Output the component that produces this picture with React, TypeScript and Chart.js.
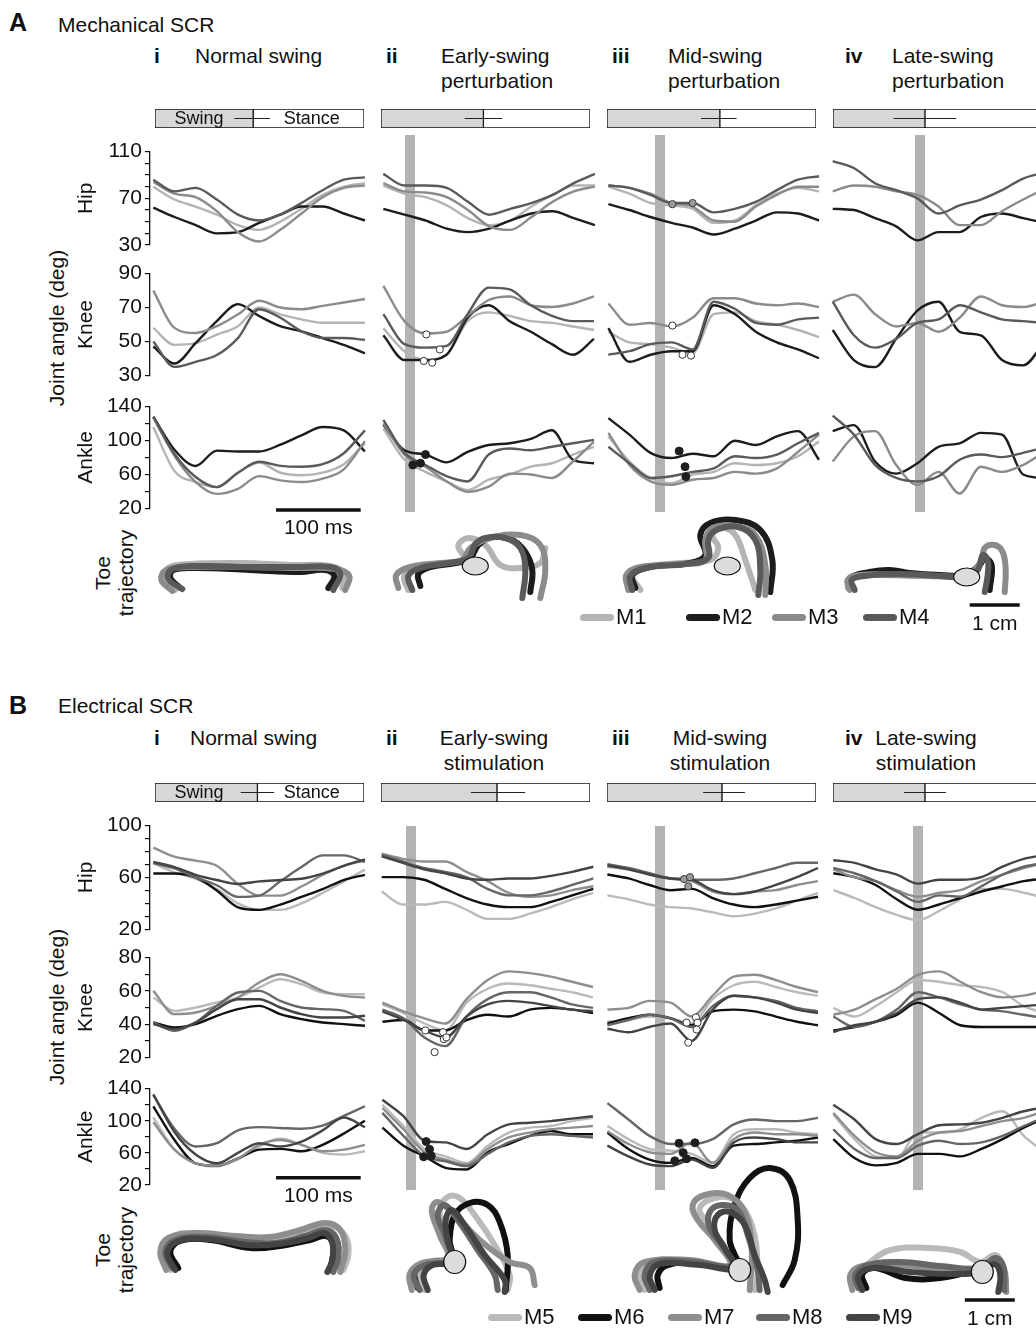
import React, { useEffect, useRef } from "react";
import { Chart, registerables } from "chart.js";

Chart.register(...registerables);

const FONT = "'Liberation Sans', Arial, Helvetica, sans-serif";
Chart.defaults.font.family = FONT;
Chart.defaults.color = "#111";

// ---------------- data ----------------
const T_MS = [0, 25, 50, 75, 100, 125, 150, 175, 200, 225, 250];
const T_MIN = -4;
const T_MAX = 250;

const MICE_A = ["M1", "M2", "M3", "M4"];
const MICE_B = ["M5", "M6", "M7", "M8", "M9"];
const COLORS_A = ["#b4b4b4", "#1c1c1c", "#8b8b8b", "#5a5a5a"];
const COLORS_B = ["#bababa", "#111111", "#8e8e8e", "#666666", "#444444"];

// stimulation / perturbation onset (ms) per column
const STIM_A = [null, 31, 61, 103];
const STIM_B = [null, 35, 62, 100];

// swing phase (% of cycle), and its spread [lo, hi]
const PHASE_A = [[47, 38, 55], [49, 40, 58], [54, 45, 62], [44, 29, 59]];
const PHASE_B = [[49, 41, 57], [55.5, 43, 69], [55, 46, 66], [44, 34, 54]];

// ---- A: Mechanical SCR (M1..M4) ----
const A1_HIP = [
  [80, 69, 63, 56, 47, 43, 50, 61, 73, 80, 83],
  [62, 54, 47, 40, 41, 49, 56, 63, 63, 57, 51],
  [84, 74, 71, 59, 41, 33, 43, 57, 71, 79, 81],
  [86, 76, 79, 69, 56, 51, 56, 66, 77, 86, 88],
];
const A1_KNEE = [
  [58, 48, 49, 54, 59, 70, 66, 63, 61, 61, 61],
  [47, 37, 49, 62, 72, 65, 59, 56, 52, 48, 43],
  [80, 58, 55, 59, 66, 74, 70, 69, 71, 73, 75],
  [50, 35, 38, 42, 52, 69, 64, 56, 52, 52, 51],
];
const A1_ANKLE = [
  [116, 64, 51, 45, 62, 74, 62, 59, 62, 72, 97],
  [128, 89, 70, 88, 87, 87, 95, 106, 116, 112, 87],
  [127, 82, 51, 37, 43, 58, 53, 51, 55, 66, 99],
  [128, 84, 57, 45, 62, 75, 70, 69, 72, 85, 112],
];

const A2_HIP = [
  [81, 74, 71, 64, 53, 47, 51, 63, 73, 81, 81],
  [61, 56, 51, 44, 41, 44, 51, 57, 59, 53, 47],
  [83, 76, 75, 71, 60, 46, 43, 54, 67, 76, 80],
  [91, 81, 81, 79, 67, 56, 61, 66, 73, 83, 91],
];
const A2_KNEE = [
  [58, 45, 40, 43, 62, 67, 65, 62, 61, 59, 57],
  [54, 40, 40, 43, 64, 71, 62, 56, 49, 43, 52],
  [82, 62, 55, 56, 65, 74, 76, 71, 70, 72, 76],
  [66, 49, 47, 48, 66, 81, 80, 71, 65, 62, 62],
];
const A2_KNEE_MARKS = [[51, 54.5], [67, 46], [48, 39.5], [58, 38.5]];
const A2_ANKLE = [
  [112, 76, 62, 51, 41, 53, 59, 68, 72, 82, 91],
  [116, 87, 82, 73, 85, 93, 95, 100, 110, 76, 72],
  [118, 82, 68, 51, 39, 45, 60, 59, 55, 74, 97],
  [122, 84, 70, 57, 51, 82, 89, 87, 91, 95, 99],
];
const A2_ANKLE_MARKS = [[35, 70], [44, 72], [50, 82]];

const A3_HIP = [
  [80, 74, 66, 64, 61, 49, 51, 64, 74, 79, 76],
  [65, 60, 54, 49, 45, 39, 44, 51, 58, 57, 51],
  [81, 79, 74, 66, 63, 51, 50, 63, 73, 80, 80],
  [81, 79, 73, 66, 66, 58, 61, 67, 77, 86, 89],
];
const A3_HIP_MARKS = [[76, 65], [100, 66]];
const A3_KNEE = [
  [56, 50, 49, 47, 44, 66, 67, 62, 60, 57, 53],
  [58, 39, 43, 45, 45, 71, 66, 56, 50, 46, 41],
  [72, 60, 61, 59, 64, 75, 75, 72, 71, 72, 70],
  [43, 45, 49, 50, 46, 73, 69, 61, 60, 63, 64],
];
const A3_KNEE_MARKS = [[76, 59.5], [88, 43], [98, 42.5]];
const A3_ANKLE = [
  [103, 74, 55, 49, 59, 62, 72, 70, 72, 80, 97],
  [124, 105, 84, 78, 83, 80, 98, 93, 103, 109, 76],
  [107, 70, 51, 47, 53, 55, 62, 60, 66, 85, 105],
  [91, 72, 55, 57, 62, 66, 80, 78, 82, 95, 107],
];
const A3_ANKLE_MARKS = [[84, 86], [91, 68], [92, 56.5]];

const A4_HIP = [
  null,
  [61, 60, 53, 46, 34, 41, 41, 54, 57, 53, 49],
  [76, 81, 80, 76, 73, 63, 47, 47, 59, 69, 78],
  [102, 96, 83, 77, 70, 57, 64, 69, 77, 87, 92],
];
const A4_KNEE = [
  null,
  [57, 40, 36, 52, 68, 73, 56, 54, 40, 37, 50],
  [73, 77, 66, 59, 61, 56, 64, 76, 71, 70, 73],
  [73, 54, 47, 52, 61, 63, 71, 67, 63, 62, 61],
];
const A4_ANKLE = [
  null,
  [109, 116, 74, 60, 72, 91, 95, 107, 105, 59, 55],
  [74, 103, 109, 70, 47, 62, 37, 68, 62, 70, 85],
  [127, 105, 70, 55, 51, 57, 76, 82, 79, 84, 90],
];

// toe trajectories (cm): [forward, height]
const A1_TOE = [
  [[0.44, 0.3], [0.24, 0.5], [0.3, 0.74], [0.74, 0.82], [1.74, 0.84], [2.74, 0.8], [3.54, 0.78], [3.84, 0.62], [3.78, 0.34]],
  [[0.54, 0.34], [0.34, 0.54], [0.4, 0.7], [0.84, 0.74], [1.94, 0.7], [2.94, 0.66], [3.44, 0.7], [3.62, 0.58], [3.5, 0.34]],
  [[0.38, 0.28], [0.16, 0.5], [0.26, 0.7], [0.74, 0.76], [1.74, 0.76], [2.74, 0.74], [3.64, 0.72], [3.92, 0.58], [3.84, 0.3]],
  [[0.58, 0.32], [0.3, 0.52], [0.38, 0.72], [0.94, 0.78], [1.94, 0.76], [2.94, 0.76], [3.54, 0.76], [3.74, 0.62], [3.6, 0.3]],
];
const A2_TOE = [
  [[0.5, 0.3], [0.42, 0.58], [0.7, 0.76], [1.24, 0.82], [1.64, 0.9], [1.5, 1.18], [1.7, 1.34], [2.04, 1.2], [2.34, 0.8], [2.74, 0.74], [3.14, 0.84], [3.24, 1.14]],
  [[0.74, 0.38], [0.7, 0.62], [0.94, 0.76], [1.44, 0.84], [1.74, 0.94], [1.9, 1.2], [2.18, 1.36], [2.58, 1.3], [2.84, 1.06], [2.98, 0.7], [2.94, 0.26]],
  [[0.3, 0.34], [0.26, 0.6], [0.54, 0.76], [1.14, 0.84], [1.58, 0.9], [1.74, 1.14], [2.14, 1.34], [2.74, 1.4], [3.14, 1.2], [3.24, 0.7], [3.14, 0.14]],
  [[0.58, 0.3], [0.5, 0.58], [0.74, 0.74], [1.3, 0.84], [1.7, 0.94], [1.84, 1.22], [2.04, 1.34], [2.44, 1.34], [2.74, 1.14], [2.84, 0.7], [2.78, 0.14]],
];
const A3_TOE = [
  [[0.64, 0.3], [0.48, 0.6], [0.74, 0.76], [1.44, 0.84], [2.04, 0.9], [2.2, 1.14], [2.08, 1.4], [2.28, 1.54], [2.54, 1.4], [2.74, 0.9], [2.94, 0.3]],
  [[0.54, 0.34], [0.48, 0.6], [0.84, 0.76], [1.64, 0.84], [1.94, 1.0], [1.84, 1.4], [2.04, 1.64], [2.54, 1.7], [3.04, 1.5], [3.28, 0.9], [3.24, 0.26]],
  [[0.4, 0.3], [0.36, 0.6], [0.64, 0.76], [1.44, 0.82], [1.94, 0.9], [1.94, 1.3], [2.08, 1.54], [2.54, 1.58], [2.94, 1.4], [3.14, 0.8], [3.14, 0.2]],
  [[0.48, 0.3], [0.44, 0.58], [0.74, 0.74], [1.54, 0.82], [2.0, 0.94], [2.0, 1.3], [2.16, 1.5], [2.6, 1.56], [2.94, 1.3], [3.04, 0.7], [3.0, 0.2]],
];
const A4_TOE = [
  [[0.3, 0.34], [0.34, 0.54], [0.74, 0.6], [1.74, 0.58], [2.54, 0.56]],
  [[0.38, 0.34], [0.34, 0.54], [0.74, 0.66], [1.14, 0.7], [1.54, 0.64], [2.14, 0.6], [2.64, 0.6], [2.94, 0.8], [3.04, 0.94], [3.18, 0.8], [3.14, 0.3]],
  [[0.34, 0.3], [0.3, 0.5], [0.54, 0.6], [1.34, 0.6], [2.14, 0.58], [2.7, 0.6], [2.98, 0.9], [3.04, 1.14], [3.24, 1.2], [3.4, 1.06], [3.46, 0.7], [3.44, 0.26]],
  [[0.44, 0.3], [0.38, 0.5], [0.64, 0.58], [1.34, 0.62], [2.14, 0.58], [2.64, 0.56], [2.9, 0.7], [3.0, 1.0], [3.1, 0.9], [3.1, 0.6], [3.04, 0.26]],
];
const FOOT_A = [null, [1.84, 0.78], [2.38, 0.78], [2.68, 0.56]];

// ---- B: Electrical SCR (M5..M9) ----
const B1_HIP = [
  [71, 64, 59, 51, 40, 35, 35, 40, 48, 57, 66],
  [63, 63, 60, 50, 37, 35, 39, 45, 51, 58, 62],
  [83, 76, 73, 69, 55, 46, 46, 53, 62, 69, 73],
  [71, 67, 60, 54, 45, 46, 57, 68, 77, 77, 72],
  [72, 68, 62, 58, 55, 57, 58, 59, 63, 69, 74],
];
const B1_KNEE = [
  [56, 48, 50, 53, 56, 62, 67, 64, 59, 58, 58],
  [41, 38, 40, 45, 49, 51, 46, 43, 41, 40, 39],
  [60, 46, 47, 51, 56, 65, 70, 66, 60, 57, 56],
  [41, 36, 41, 51, 59, 60, 54, 50, 49, 48, 42],
  [40, 37, 41, 49, 55, 55, 50, 46, 44, 44, 45],
];
const B1_ANKLE = [
  [104, 64, 47, 43, 52, 68, 78, 70, 60, 58, 62],
  [118, 76, 47, 44, 53, 64, 65, 62, 70, 84, 100],
  [98, 64, 47, 44, 53, 70, 76, 70, 62, 64, 70],
  [132, 90, 68, 72, 88, 92, 91, 90, 94, 106, 118],
  [133, 86, 58, 47, 60, 72, 68, 74, 88, 104, 92],
];

const B2_HIP = [
  [49, 39, 39, 41, 35, 28, 28, 32, 37, 43, 48],
  [60, 60, 58, 51, 44, 39, 37, 37, 41, 46, 51],
  [78, 74, 72, 72, 64, 57, 48, 45, 46, 50, 53],
  [77, 72, 67, 64, 60, 51, 46, 46, 49, 54, 59],
  [76, 71, 66, 63, 59, 58, 59, 59, 61, 64, 68],
];
const B2_KNEE = [
  [52, 47, 41, 37, 53, 61, 64, 63, 61, 59, 56],
  [42, 43, 37, 37, 43, 46, 45, 49, 50, 49, 47],
  [53, 48, 44, 41, 55, 66, 71, 70, 68, 65, 62],
  [49, 44, 33, 28, 45, 55, 59, 59, 56, 52, 50],
  [48, 43, 37, 33, 45, 52, 54, 53, 51, 49, 48],
];
const B2_KNEE_MARKS = [[51, 37], [72, 36], [73, 32], [76, 33], [62, 24.5]];
const B2_ANKLE = [
  [118, 92, 64, 55, 47, 68, 84, 90, 92, 98, 102],
  [90, 68, 55, 41, 39, 60, 70, 80, 86, 82, 82],
  [114, 88, 60, 51, 45, 64, 78, 84, 88, 90, 92],
  [108, 80, 55, 49, 43, 58, 72, 80, 82, 80, 78],
  [124, 104, 74, 72, 64, 82, 94, 96, 98, 101, 104],
];
const B2_ANKLE_MARKS = [[52, 73], [56, 63.5], [49, 54.5], [58, 55.5]];

const B3_HIP = [
  [46, 43, 39, 37, 36, 33, 30, 32, 36, 42, 48],
  [62, 59, 54, 50, 51, 44, 39, 37, 39, 42, 45],
  [68, 66, 62, 59, 57, 49, 47, 49, 50, 54, 57],
  [70, 67, 63, 59, 58, 58, 59, 63, 67, 71, 71],
  [69, 66, 62, 59, 58, 50, 47, 49, 54, 60, 67],
];
const B3_HIP_MARKS = [[91, 58.5], [98, 60], [96, 53]];
const B3_KNEE = [
  [42, 43, 45, 44, 41, 55, 63, 65, 62, 59, 57],
  [41, 44, 46, 44, 40, 48, 49, 48, 45, 42, 40],
  [49, 50, 54, 53, 45, 57, 68, 69, 66, 62, 59],
  [40, 43, 46, 44, 39, 51, 57, 56, 54, 50, 48],
  [38, 36, 39, 41, 31, 49, 57, 56, 53, 49, 47],
];
const B3_KNEE_MARKS = [[94, 41.5], [105, 44.5], [107, 41.5], [106, 37.5], [96, 30]];
const B3_ANKLE = [
  [92, 76, 64, 62, 58, 47, 82, 88, 88, 84, 82],
  [84, 64, 51, 47, 53, 43, 68, 70, 72, 74, 78],
  [86, 70, 60, 58, 72, 47, 76, 84, 82, 82, 80],
  [120, 100, 80, 70, 70, 76, 94, 100, 98, 98, 102],
  [68, 55, 45, 43, 51, 41, 72, 78, 76, 72, 72],
];
const B3_ANKLE_MARKS = [[85, 71], [104, 71.5], [90, 59.5], [80, 49.5], [94, 52]];

const B4_HIP = [
  [50, 44, 37, 31, 27, 34, 43, 51, 51, 48, 44],
  [63, 60, 54, 43, 35, 39, 44, 49, 53, 57, 59],
  [66, 60, 57, 50, 45, 48, 50, 57, 62, 67, 71],
  [67, 63, 57, 49, 41, 46, 45, 53, 62, 68, 71],
  [73, 71, 66, 62, 55, 58, 58, 60, 68, 74, 77],
];
const B4_KNEE = [
  [50, 45, 51, 59, 66, 65, 63, 62, 59, 51, 47],
  [37, 39, 42, 46, 53, 47, 40, 39, 39, 39, 39],
  [46, 49, 55, 61, 69, 71, 65, 59, 56, 57, 60],
  [45, 39, 42, 49, 59, 56, 52, 49, 48, 46, 44],
  [36, 40, 42, 47, 55, 56, 53, 49, 50, 51, 52],
];
const B4_ANKLE = [
  [106, 76, 55, 53, 84, 84, 88, 102, 110, 80, 60],
  [76, 53, 44, 47, 58, 58, 55, 64, 76, 90, 102],
  [108, 80, 60, 55, 74, 84, 86, 92, 98, 102, 111],
  [88, 64, 53, 53, 68, 74, 70, 72, 80, 92, 103],
  [118, 100, 76, 70, 82, 93, 94, 96, 102, 110, 115],
];

const B1_TOE = [
  [[0.34, 0.5], [0.2, 0.86], [0.38, 1.14], [0.94, 1.2], [1.74, 1.14], [2.34, 1.1], [3.04, 1.26], [3.54, 1.38], [3.84, 1.18], [3.9, 0.8], [3.8, 0.5]],
  [[0.5, 0.54], [0.34, 0.86], [0.54, 1.08], [1.14, 1.1], [1.94, 0.94], [2.54, 0.98], [3.14, 1.1], [3.46, 1.18], [3.6, 0.98], [3.54, 0.5]],
  [[0.26, 0.5], [0.14, 0.86], [0.3, 1.14], [0.84, 1.24], [1.64, 1.18], [2.34, 1.16], [2.94, 1.3], [3.44, 1.44], [3.74, 1.3], [3.84, 0.9], [3.74, 0.46]],
  [[0.38, 0.54], [0.24, 0.86], [0.44, 1.1], [1.04, 1.16], [1.84, 1.06], [2.44, 1.04], [3.04, 1.18], [3.44, 1.3], [3.66, 1.14], [3.7, 0.74], [3.6, 0.46]],
  [[0.44, 0.5], [0.28, 0.84], [0.5, 1.08], [1.1, 1.12], [1.9, 1.0], [2.5, 1.02], [3.1, 1.14], [3.42, 1.24], [3.58, 1.04], [3.58, 0.7], [3.48, 0.46]],
];
const B2_TOE = [
  [[0.86, 0.1], [0.76, 0.4], [0.96, 0.66], [1.36, 0.74], [1.26, 1.1], [1.16, 1.7], [1.32, 1.96], [1.56, 1.94], [1.86, 1.6], [2.26, 1.0], [2.56, 0.4], [2.52, 0.1]],
  [[0.72, 0.14], [0.66, 0.46], [0.92, 0.64], [1.4, 0.74], [1.36, 1.1], [1.46, 1.6], [1.76, 1.84], [2.12, 1.8], [2.36, 1.46], [2.52, 0.8], [2.48, 0.1]],
  [[0.6, 0.1], [0.56, 0.42], [0.8, 0.64], [1.32, 0.74], [1.16, 1.2], [1.0, 1.7], [1.12, 1.86], [1.46, 1.6], [1.96, 1.1], [2.56, 0.66], [2.96, 0.54], [3.06, 0.2]],
  [[0.76, 0.1], [0.64, 0.4], [0.86, 0.6], [1.36, 0.7], [1.26, 1.2], [1.12, 1.6], [1.26, 1.8], [1.52, 1.5], [1.92, 0.9], [2.26, 0.4], [2.32, 0.1]],
  [[0.92, 0.1], [0.84, 0.4], [1.02, 0.6], [1.42, 0.66], [1.32, 1.1], [1.28, 1.5], [1.4, 1.7], [1.66, 1.4], [2.06, 0.8], [2.46, 0.3], [2.46, 0.06]],
];
const B3_TOE = [
  [[0.76, 0.1], [0.66, 0.4], [0.86, 0.66], [1.66, 0.66], [2.46, 0.58], [2.26, 1.1], [1.96, 1.5], [1.86, 1.74], [2.16, 1.94], [2.56, 1.9], [2.9, 1.4], [3.02, 0.5], [2.96, 0.1]],
  [[1.06, 0.14], [1.02, 0.4], [1.22, 0.6], [1.86, 0.64], [2.62, 0.54], [2.46, 1.1], [2.56, 1.8], [2.86, 2.34], [3.26, 2.54], [3.66, 2.3], [3.82, 1.5], [3.76, 0.7], [3.52, 0.2]],
  [[0.66, 0.1], [0.56, 0.4], [0.76, 0.66], [1.66, 0.7], [2.46, 0.6], [2.16, 1.1], [1.82, 1.5], [1.72, 1.8], [1.96, 2.0], [2.42, 2.0], [2.76, 1.66], [2.9, 0.9], [2.86, 0.1]],
  [[0.86, 0.1], [0.76, 0.4], [0.96, 0.66], [1.76, 0.66], [2.52, 0.58], [2.3, 1.0], [2.06, 1.34], [2.06, 1.66], [2.3, 1.8], [2.62, 1.7], [2.82, 1.2], [3.02, 0.5], [3.06, 0.1]],
  [[0.96, 0.1], [0.86, 0.38], [1.06, 0.62], [1.86, 0.6], [2.56, 0.54], [2.36, 0.94], [2.16, 1.3], [2.22, 1.6], [2.46, 1.66], [2.76, 1.4], [2.96, 0.8], [3.16, 0.3], [3.22, 0.06]],
];
const B4_TOE = [
  [[0.54, 0.1], [0.46, 0.4], [0.74, 0.66], [1.14, 0.9], [1.94, 0.94], [2.54, 0.86], [2.94, 0.66], [3.24, 0.8], [3.38, 0.54], [3.34, 0.1]],
  [[0.66, 0.14], [0.58, 0.42], [0.84, 0.54], [1.44, 0.34], [2.14, 0.34], [2.84, 0.5], [3.14, 0.66], [3.34, 0.54], [3.34, 0.14]],
  [[0.38, 0.1], [0.34, 0.4], [0.58, 0.58], [1.34, 0.6], [2.14, 0.5], [2.98, 0.46], [3.26, 0.66], [3.42, 0.5], [3.46, 0.06]],
  [[0.5, 0.14], [0.44, 0.4], [0.7, 0.6], [1.34, 0.66], [2.14, 0.58], [2.94, 0.54], [3.24, 0.74], [3.4, 0.58], [3.42, 0.1]],
  [[0.58, 0.1], [0.5, 0.38], [0.78, 0.54], [1.54, 0.46], [2.34, 0.42], [2.98, 0.46], [3.22, 0.62], [3.34, 0.4], [3.3, 0.06]],
];
const FOOT_B = [null, [1.46, 0.66], [2.66, 0.5], [2.98, 0.46]];

// ---------------- styling / layout ----------------
const PX_PER_MS = 0.8465;
const PX_PER_CM = 50;
const STIM_COLOR = "#b3b3b3";
const SWING_FILL = "#d7d7d7";
const BASE_SIZE = 21;
const MARK_STYLE = {
  open: { fill: "#ffffff", stroke: "#333333", r: 3.6 },
  dark: { fill: "#1e1e1e", stroke: "#1e1e1e", r: 4 },
  gray: { fill: "#9a9a9a", stroke: "#3a3a3a", r: 3.6 },
};

const SECTIONS = [
  {
    id: "A",
    colors: COLORS_A,
    mice: MICE_A,
    starts: [153.3, 383.3, 608.3, 832.7],
    phaseLefts: [155, 381, 607, 833],
    phaseTop: 109,
    phases: PHASE_A,
    stims: STIM_A,
    stimSpan: [135, 512],
    timeBarY: 18,
    rows: [
      { title: "Hip", cv: [135, 258], area: [151.7, 245], min: 30, max: 110, step: 10, labels: [30, 70, 110],
        cols: [A1_HIP, A2_HIP, A3_HIP, A4_HIP], marks: [null, null, [A3_HIP_MARKS, "gray"], null] },
      { title: "Knee", cv: [258, 391], area: [271.7, 377.7], min: 30, max: 90, step: 20, labels: [30, 50, 70, 90],
        cols: [A1_KNEE, A2_KNEE, A3_KNEE, A4_KNEE], marks: [null, [A2_KNEE_MARKS, "open"], [A3_KNEE_MARKS, "open"], null] },
      { title: "Ankle", cv: [391, 545], area: [404.3, 508.3], min: 20, max: 140, step: 20, labels: [20, 60, 100, 140],
        cols: [A1_ANKLE, A2_ANKLE, A3_ANKLE, A4_ANKLE], marks: [null, [A2_ANKLE_MARKS, "dark"], [A3_ANKLE_MARKS, "dark"], null] },
    ],
    toe: { cv: [495, 650], area: [505, 605], yMax: 2.0, paths: [A1_TOE, A2_TOE, A3_TOE, A4_TOE], feet: FOOT_A, footR: [13, 9], cmBar: [2.74, 0] },
  },
  {
    id: "B",
    colors: COLORS_B,
    mice: MICE_B,
    starts: [153.3, 381.7, 606.7, 833.3],
    phaseLefts: [155, 381, 607, 833],
    phaseTop: 783,
    phases: PHASE_B,
    stims: STIM_B,
    stimSpan: [826, 1190],
    timeBarY: 29,
    rows: [
      { title: "Hip", cv: [810, 942], area: [825, 929.3], min: 20, max: 100, step: 10, labels: [20, 60, 100],
        cols: [B1_HIP, B2_HIP, B3_HIP, B4_HIP], marks: [null, null, [B3_HIP_MARKS, "gray"], null] },
      { title: "Knee", cv: [942, 1073], area: [955.7, 1060], min: 20, max: 80, step: 10, labels: [20, 40, 60, 80],
        cols: [B1_KNEE, B2_KNEE, B3_KNEE, B4_KNEE], marks: [null, [B2_KNEE_MARKS, "open"], [B3_KNEE_MARKS, "open"], null] },
      { title: "Ankle", cv: [1073, 1212], area: [1086.7, 1185], min: 20, max: 140, step: 20, labels: [20, 60, 100, 140],
        cols: [B1_ANKLE, B2_ANKLE, B3_ANKLE, B4_ANKLE], marks: [null, [B2_ANKLE_MARKS, "dark"], [B3_ANKLE_MARKS, "dark"], null] },
    ],
    toe: { cv: [1150, 1328], area: [1160, 1295], yMax: 2.7, paths: [B1_TOE, B2_TOE, B3_TOE, B4_TOE], feet: FOOT_B, footR: [11, 11.5], cmBar: [2.63, -0.1] },
  },
];

// ---------------- chart builders ----------------
function jointConfig(o: any) {
  const axis = o.showAxis;
  const datasets: any[] = [];
  o.series.forEach((vals: number[] | null, i: number) => {
    if (!vals) return;
    datasets.push({
      data: vals.map((v, k) => ({ x: T_MS[k], y: v })),
      borderColor: o.colors[i],
      borderWidth: 2.4,
      pointRadius: 0,
      cubicInterpolationMode: "monotone",
      fill: false,
      order: 50 - i,
      clip: 8,
    });
  });
  if (o.marks) {
    const st = (MARK_STYLE as any)[o.marks[1]];
    datasets.push({
      data: o.marks[0].map((p: number[]) => ({ x: p[0], y: p[1] })),
      showLine: false,
      pointRadius: st.r,
      pointBackgroundColor: st.fill,
      pointBorderColor: st.stroke,
      pointBorderWidth: 1,
      borderColor: st.stroke,
      order: 0,
      clip: 8,
    });
  }
  const decor = {
    id: "jointDecor",
    beforeDatasetsDraw(chart: any) {
      // perturbation / stimulation band, spanning hip to ankle (drawn by the hip chart)
      if (!o.stim) return;
      const { ctx, scales } = chart;
      const px = scales.x.getPixelForValue(o.stim.t);
      ctx.save();
      ctx.fillStyle = STIM_COLOR;
      ctx.fillRect(Math.round(px - 5), o.stim.top, 10, o.stim.bottom - o.stim.top);
      ctx.restore();
    },
    afterDraw(chart: any) {
      if (!o.timeBar) return;
      const { ctx, scales } = chart;
      const x0 = scales.x.getPixelForValue(o.timeBar.from);
      const x1 = scales.x.getPixelForValue(o.timeBar.to);
      const y = scales.y.getPixelForValue(o.timeBar.y);
      ctx.save();
      ctx.strokeStyle = "#111";
      ctx.lineWidth = 3.5;
      ctx.beginPath();
      ctx.moveTo(x0, y);
      ctx.lineTo(x1, y);
      ctx.stroke();
      ctx.fillStyle = "#111";
      ctx.font = `${BASE_SIZE}px ${FONT}`;
      ctx.textAlign = "center";
      ctx.textBaseline = "middle";
      ctx.fillText(o.timeBar.label, (x0 + x1) / 2, y + 18);
      ctx.restore();
    },
  };
  const pad = {
    left: axis ? 0 : o.area.l - o.cv.x,
    top: o.area.t - o.cv.y,
    right: o.cv.x + o.cv.w - o.area.r,
    bottom: o.cv.y + o.cv.h - o.area.b,
  };
  return {
    type: "line",
    data: { datasets },
    options: {
      responsive: false,
      animation: false,
      events: [],
      layout: { padding: pad },
      plugins: { legend: { display: false }, tooltip: { enabled: false } },
      scales: {
        x: { type: "linear", min: T_MIN, max: T_MAX, display: false },
        y: {
          type: "linear",
          min: o.yMin,
          max: o.yMax,
          display: axis,
          afterFit: (sc: any) => {
            if (axis) sc.width = o.area.l - o.cv.x;
          },
          border: { display: true, color: "#111", width: 1.3 },
          grid: { drawOnChartArea: false, drawTicks: true, tickLength: 5, color: "#111", lineWidth: 1.2 },
          ticks: {
            stepSize: o.step,
            autoSkip: false,
            padding: 3,
            color: "#111",
            font: { size: BASE_SIZE },
            callback: (v: number) => (o.labels.indexOf(v) >= 0 ? String(v) : ""),
          },
          title: { display: true, text: o.title, color: "#111", font: { size: BASE_SIZE }, padding: 0 },
        },
      },
    },
    plugins: [decor],
  };
}

function toeConfig(o: any) {
  const datasets = o.paths.map((p: number[][], i: number) => ({
    data: p.map((q) => ({ x: q[0], y: q[1] })),
    showLine: true,
    borderColor: o.colors[i],
    borderWidth: 6,
    pointRadius: 0,
    tension: 0.4,
    borderCapStyle: "round",
    borderJoinStyle: "round",
    fill: false,
    clip: false,
    order: 50 - i,
  }));
  const decor = {
    id: "toeDecor",
    afterDatasetsDraw(chart: any) {
      const { ctx, scales } = chart;
      ctx.save();
      if (o.foot) {
        const fx = scales.x.getPixelForValue(o.foot[0]);
        const fy = scales.y.getPixelForValue(o.foot[1]);
        ctx.beginPath();
        ctx.ellipse(fx, fy, o.footR[0], o.footR[1], 0, 0, Math.PI * 2);
        ctx.fillStyle = "#dcdcdc";
        ctx.fill();
        ctx.lineWidth = 1.2;
        ctx.strokeStyle = "#111";
        ctx.stroke();
      }
      if (o.cmBar) {
        const x0 = scales.x.getPixelForValue(o.cmBar[0]);
        const x1 = scales.x.getPixelForValue(o.cmBar[0] + 1);
        const y = scales.y.getPixelForValue(o.cmBar[1]);
        ctx.strokeStyle = "#111";
        ctx.lineWidth = 3.5;
        ctx.beginPath();
        ctx.moveTo(x0, y);
        ctx.lineTo(x1, y);
        ctx.stroke();
        ctx.fillStyle = "#111";
        ctx.font = `${BASE_SIZE}px ${FONT}`;
        ctx.textAlign = "center";
        ctx.textBaseline = "middle";
        ctx.fillText("1 cm", (x0 + x1) / 2, y + 19);
      }
      ctx.restore();
    },
  };
  return {
    type: "scatter",
    data: { datasets },
    options: {
      responsive: false,
      animation: false,
      events: [],
      layout: {
        padding: {
          left: o.area.l - o.cv.x,
          top: o.area.t - o.cv.y,
          right: o.cv.x + o.cv.w - o.area.r,
          bottom: o.cv.y + o.cv.h - o.area.b,
        },
      },
      plugins: { legend: { display: false }, tooltip: { enabled: false } },
      scales: {
        x: { type: "linear", min: 0, max: (o.area.r - o.area.l) / PX_PER_CM, display: false },
        y: { type: "linear", min: 0, max: o.yMax, display: false },
      },
    },
    plugins: [decor],
  };
}

function phaseConfig(o: any) {
  const decor = {
    id: "phaseDecor",
    afterDatasetsDraw(chart: any) {
      const { ctx, chartArea, scales } = chart;
      const y = (chartArea.top + chartArea.bottom) / 2;
      ctx.save();
      ctx.strokeStyle = "#222";
      ctx.lineWidth = 1;
      ctx.beginPath();
      ctx.moveTo(scales.x.getPixelForValue(o.lo), y);
      ctx.lineTo(scales.x.getPixelForValue(o.hi), y);
      ctx.stroke();
      if (o.text) {
        ctx.fillStyle = "#111";
        ctx.font = `18px ${FONT}`;
        ctx.textAlign = "center";
        ctx.textBaseline = "middle";
        ctx.fillText("Swing", scales.x.getPixelForValue(21), y + 1);
        ctx.fillText("Stance", scales.x.getPixelForValue(75), y + 1);
      }
      ctx.restore();
    },
  };
  const common = { borderColor: "#111", borderWidth: 1, borderSkipped: false, barPercentage: 1, categoryPercentage: 1 };
  return {
    type: "bar",
    data: {
      labels: [""],
      datasets: [
        { ...common, data: [o.swing], backgroundColor: SWING_FILL },
        { ...common, data: [100 - o.swing], backgroundColor: "#ffffff" },
      ],
    },
    options: {
      indexAxis: "y",
      responsive: false,
      animation: false,
      events: [],
      layout: { padding: 1 },
      plugins: { legend: { display: false }, tooltip: { enabled: false } },
      scales: {
        x: { stacked: true, min: 0, max: 100, display: false },
        y: { stacked: true, display: false },
      },
    },
    plugins: [decor],
  };
}

// ---------------- components ----------------
function ChartBox({ x, y, w, h, cfg }: { x: number; y: number; w: number; h: number; cfg: any }) {
  const ref = useRef<HTMLCanvasElement | null>(null);
  useEffect(() => {
    if (!ref.current) return;
    const chart = new Chart(ref.current, cfg);
    return () => chart.destroy();
  }, []);
  return (
    <div style={{ position: "absolute", left: x, top: y, width: w, height: h }}>
      <canvas ref={ref} width={w} height={h} style={{ display: "block", width: w, height: h }} />
    </div>
  );
}

function Txt({ x, y, text, size = BASE_SIZE, bold = false, anchor = "left" }: any) {
  const tx = anchor === "center" ? "-50%" : "0";
  return (
    <div
      style={{
        position: "absolute",
        left: x,
        top: y,
        transform: `translate(${tx}, -50%)`,
        fontSize: size,
        fontWeight: bold ? 700 : 400,
        whiteSpace: "nowrap",
        lineHeight: 1.15,
      }}
    >
      {text}
    </div>
  );
}

function Rotated({ x, y, lines }: { x: number; y: number; lines: string[] }) {
  return (
    <div
      style={{
        position: "absolute",
        left: x,
        top: y,
        transform: "translate(-50%, -50%) rotate(-90deg)",
        fontSize: BASE_SIZE,
        lineHeight: "23px",
        textAlign: "center",
        whiteSpace: "nowrap",
      }}
    >
      {lines.map((l, i) => (
        <div key={i}>{l}</div>
      ))}
    </div>
  );
}

function Legend({ y, names, colors, lefts }: any) {
  return (
    <>
      {names.map((n: string, i: number) => (
        <React.Fragment key={n}>
          <div
            style={{
              position: "absolute",
              left: lefts[i],
              top: y - 3.5,
              width: 34,
              height: 7,
              borderRadius: 4,
              background: colors[i],
            }}
          />
          <Txt x={lefts[i] + 36} y={y} text={n} size={22} />
        </React.Fragment>
      ))}
    </>
  );
}

export default function App() {
  const nodes: any[] = [];

  SECTIONS.forEach((sec) => {
    // phase bars
    sec.phases.forEach((ph, ci) => {
      const left = sec.phaseLefts[ci];
      nodes.push(
        <ChartBox
          key={`${sec.id}-phase-${ci}`}
          x={left - 1}
          y={sec.phaseTop - 1}
          w={211}
          h={21}
          cfg={phaseConfig({ swing: ph[0], lo: ph[1], hi: ph[2], text: ci === 0 })}
        />
      );
    });

    // joint panels
    sec.rows.forEach((row, ri) => {
      sec.starts.forEach((start, ci) => {
        const aL = start + T_MIN * PX_PER_MS;
        const aR = aL + (T_MAX - T_MIN) * PX_PER_MS;
        const showAxis = ci === 0;
        const cvX = showAxis ? 74 : Math.floor(aL) - 4;
        const cvW = showAxis ? Math.ceil(aR) + 4 - 74 : 224;
        const cvY = Math.min(row.cv[0], ri === 0 ? sec.stimSpan[0] : row.cv[0]);
        // the hip canvas reaches down to the bottom of the stimulation band
        const cvBottom = ri === 0 ? Math.max(row.cv[1], sec.stimSpan[1] + 2) : row.cv[1];
        const cvH = cvBottom - cvY;
        const t = sec.stims[ci];
        const stim =
          ri === 0 && t !== null ? { t, top: sec.stimSpan[0] - cvY, bottom: sec.stimSpan[1] - cvY } : null;
        const timeBar = showAxis && ri === 2 ? { from: 145, to: 245, y: sec.timeBarY, label: "100 ms" } : null;
        const cfg = jointConfig({
          series: row.cols[ci],
          colors: sec.colors,
          yMin: row.min,
          yMax: row.max,
          step: row.step,
          labels: row.labels,
          title: row.title,
          showAxis,
          cv: { x: cvX, y: cvY, w: cvW, h: cvH },
          area: { l: aL, r: aR, t: row.area[0], b: row.area[1] },
          stim,
          marks: row.marks[ci],
          timeBar,
        });
        nodes.push(<ChartBox key={`${sec.id}-${ri}-${ci}`} x={cvX} y={cvY} w={cvW} h={cvH} cfg={cfg} />);
      });
    });

    // toe trajectories
    sec.starts.forEach((start, ci) => {
      const aL = start;
      const aR = start + 215;
      const cvX = Math.floor(aL) - 14;
      const cvW = 246;
      const cvY = sec.toe.cv[0];
      const cvH = sec.toe.cv[1] - sec.toe.cv[0];
      const cfg = toeConfig({
        paths: sec.toe.paths[ci],
        colors: sec.colors,
        yMax: sec.toe.yMax,
        cv: { x: cvX, y: cvY, w: cvW, h: cvH },
        area: { l: aL, r: aR, t: sec.toe.area[0], b: sec.toe.area[1] },
        foot: sec.toe.feet[ci],
        footR: sec.toe.footR,
        cmBar: ci === 3 ? sec.toe.cmBar : null,
      });
      nodes.push(<ChartBox key={`${sec.id}-toe-${ci}`} x={cvX} y={cvY} w={cvW} h={cvH} cfg={cfg} />);
    });
  });

  return (
    <div
      style={{
        position: "absolute",
        left: 0,
        top: 0,
        width: 1036,
        height: 1328,
        overflow: "hidden",
        background: "#fff",
        fontFamily: FONT,
        color: "#111",
      }}
    >
      {/* Section A headings */}
      <Txt x={9} y={22} text="A" size={25} bold />
      <Txt x={58} y={25} text="Mechanical SCR" />
      <Txt x={154} y={56} text="i" bold />
      <Txt x={195} y={56} text="Normal swing" />
      <Txt x={386} y={56} text="ii" bold />
      <Txt x={441} y={56} text="Early-swing" />
      <Txt x={441} y={81} text="perturbation" />
      <Txt x={612} y={56} text="iii" bold />
      <Txt x={668} y={56} text="Mid-swing" />
      <Txt x={668} y={81} text="perturbation" />
      <Txt x={845} y={56} text="iv" bold />
      <Txt x={892} y={56} text="Late-swing" />
      <Txt x={892} y={81} text="perturbation" />

      {/* Section B headings */}
      <Txt x={9} y={705} text="B" size={25} bold />
      <Txt x={58} y={706} text="Electrical SCR" />
      <Txt x={154} y={738} text="i" bold />
      <Txt x={190} y={738} text="Normal swing" />
      <Txt x={386} y={738} text="ii" bold />
      <Txt x={494} y={738} text="Early-swing" anchor="center" />
      <Txt x={494} y={763} text="stimulation" anchor="center" />
      <Txt x={612} y={738} text="iii" bold />
      <Txt x={720} y={738} text="Mid-swing" anchor="center" />
      <Txt x={720} y={763} text="stimulation" anchor="center" />
      <Txt x={845} y={738} text="iv" bold />
      <Txt x={926} y={738} text="Late-swing" anchor="center" />
      <Txt x={926} y={763} text="stimulation" anchor="center" />

      <Rotated x={56} y={328} lines={["Joint angle (deg)"]} />
      <Rotated x={56} y={1007} lines={["Joint angle (deg)"]} />
      <Rotated x={114} y={573} lines={["Toe", "trajectory"]} />
      <Rotated x={114} y={1250} lines={["Toe", "trajectory"]} />

      {nodes}

      <Legend y={617} names={MICE_A} colors={COLORS_A} lefts={[580, 686, 772, 863]} />
      <Legend y={1317} names={MICE_B} colors={COLORS_B} lefts={[488, 578, 668, 756, 846]} />
    </div>
  );
}
